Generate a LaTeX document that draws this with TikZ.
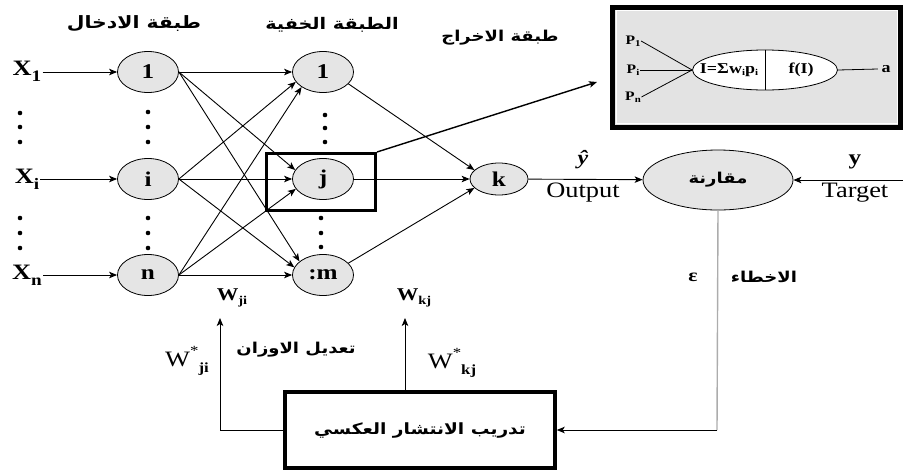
\documentclass[tikz,border=0pt]{standalone}
\usepackage{fontspec}
\setmainfont{Liberation Serif}[FakeStretch=1.2]
\newfontfamily\arabicfont[Script=Arabic,FakeStretch=1.2]{DejaVu Sans}
\TeXXeTstate=1
\usetikzlibrary{shapes.geometric,arrows.meta}

\newcommand\setfs[1]{\fontsize{#1}{#1}\selectfont}
\newcommand\arfont[1]{\arabicfont\bfseries\setfs{#1}}
\newcommand\lowsub[2][0.45ex]{\raisebox{-#1}{#2}}

\begin{document}
\begin{tikzpicture}[x=1pt,y=-1pt,
  neuron/.style={ellipse,draw,line width=0.8pt,fill=gray!20,
    minimum width=61pt,minimum height=41pt,inner sep=0pt,font=\bfseries\setfs{21}},
  link/.style={-{Stealth[length=8pt,width=6.5pt,inset=2pt]},line width=0.9pt},
  thin/.style={line width=0.8pt},
  dotmark/.style={circle,fill=black,inner sep=0pt,minimum size=4.6pt},
  lbl/.style={inner sep=1pt,font=\setfs{22}},
  xlbl/.style={inner sep=1pt,font=\bfseries\setfs{22}},
  wlbl/.style={inner sep=1pt,font=\bfseries\setfs{18}},
  plbl/.style={inner sep=0.5pt,font=\bfseries\setfs{13}},
  thickbox/.style={draw,line width=3pt,inner sep=0pt}]

\useasboundingbox (0,0) rectangle (903,472);

% layer titles
\node (tin)  at (134,24) {\arfont{17}\beginR طبقة الادخال\endR};
\node (thid) at (332,25) {\arfont{16}\beginR الطبقة الخفية\endR};
\node (tout) at (500,38) {\arfont{15}\beginR طبقة الاخراج\endR};

% input layer
\node[neuron] (in1) at (148,72)  {1};
\node[neuron] (ini) at (148,179) {i};
\node[neuron] (inn) at (148,275) {n};

% hidden layer
\node[neuron] (h1) at (323,72)  {1};
\node[neuron] (hj) at (323,179) {j};
\node[neuron] (hm) at (323,275) {:m};

% output neuron and comparison
\node[neuron,minimum width=58pt,minimum height=32pt] (k) at (499,179) {k};
\node[neuron,minimum width=150pt,minimum height=60pt] (cmp) at (718,180)
  {\arfont{15}\beginR مقارنة\endR};

% input signals
\node[xlbl] (x1) at (27,71)  {X\lowsub[0.6ex]{\setfs{16}1}};
\node[xlbl] (xi) at (27,179) {X\lowsub[0.6ex]{\setfs{16}i}};
\node[xlbl] (xn) at (27,275) {X\lowsub[0.6ex]{\setfs{16}n}};
\draw[link] (x1.east |- in1) -- (in1);
\draw[link] (xi.east |- ini) -- (ini);
\draw[link] (xn.east |- inn) -- (inn);

% ellipsis dots
\foreach \x/\y in {20/113,20/127,20/142,20/218,20/233,20/248,
                   148/112,148/127,148/142,148/218,148/233,148/248,
                   325/115,325/128,325/142,321/218,321/233,321/247}
  \node[dotmark] at (\x,\y) {};

% input -> hidden
\draw[link] (in1.east) -- (h1.west);
\draw[link] (in1.east) -- (hj.162);
\draw[link] (in1.east) -- (hm.150);
\draw[link] (ini.east) -- (h1.200);
\draw[link] (ini.east) -- (hj.west);
\draw[link] (ini.east) -- (hm.165);
\draw[link] (inn.east) -- (h1.215);
\draw[link] (inn.east) -- (hj.200);
\draw[link] (inn.east) -- (hm.west);

% hidden -> output
\draw[link] (h1.-25) -- (k.160);
\draw[link] (hj.east) -- (k.west);
\draw[link] (hm.25) -- (k.200);

% frame around neuron j
\node[thickbox,minimum width=109pt,minimum height=57pt] (jbox) at (321,182) {};

% single neuron detail
\node[draw,line width=5pt,fill=gray!22,minimum width=288pt,minimum height=120pt,
  inner sep=0pt] (inset) at (756.5,67) {};
\draw[white,line width=0.8pt] ([shift={(6,6)}]inset.north west) rectangle ([shift={(-6,-6)}]inset.south east);
\node[ellipse,draw,thin,fill=white,minimum width=145pt,minimum height=40pt,
  inner sep=0pt] (neu) at (765,70) {};
\draw[thin] (neu.north) -- (neu.south);
\node[font=\bfseries\setfs{15}] (sumtxt) at (729,70) {I=Σw\lowsub[0.3ex]{\setfs{9}i}p\lowsub[0.3ex]{\setfs{9}i}};
\node[font=\bfseries\setfs{15}] (ftxt) at (801,70) {f(I)};
\node[plbl] (p1) at (633,41) {P\lowsub[0.3ex]{\setfs{9}1}};
\node[plbl] (p2) at (633,70) {P\lowsub[0.3ex]{\setfs{9}i}};
\node[plbl] (pn) at (633,97) {P\lowsub[0.3ex]{\setfs{9}n}};
\draw[thin] (p1.east) -- (neu.west);
\draw[thin] (p2.east) -- (neu.west);
\draw[thin] (pn.east) -- (neu.west);
\node[font=\bfseries\setfs{15}] (outa) at (886,69) {a};
\draw[thin] (neu.east) -- (outa.west);

\coordinate (insetin) at (597,82);
\draw[link,line width=1.4pt] (jbox.north east) -- (insetin);

% output and target
\draw[link] (k) -- (cmp);
\node[lbl,font=\bfseries\itshape\setfs{20}] (yhat) at (583,160) {ŷ};
\node[lbl] (outlbl) at (583,193) {Output};
\coordinate (tgt) at (903,180);
\draw[link] (tgt) -- (cmp.east);
\node[lbl,font=\bfseries\setfs{21}] (ylbl) at (855,162) {y};
\node[lbl] (tgtlbl) at (855,193) {Target};

% error feedback
\node[draw,line width=3.5pt,minimum width=270pt,minimum height=76pt,inner sep=0pt] (train)
  at (420,430) {\arfont{15.5}\beginR تدريب الانتشار العكسي\endR};
\coordinate (ec) at (717,430);
\draw[gray!65,line width=1.4pt] (cmp.south) -- (ec);
\draw[link] (ec) -- (train.east);
\node[lbl,font=\bfseries\setfs{18}] (eps) at (693,277) {ε};
\node (errlbl) at (764,277) {\arfont{15}\beginR الاخطاء\endR};

% weight updates
\coordinate (wjitip) at (220,318);
\coordinate (wkjtip) at (405,318);
\draw[link] (train.west) -| (wjitip);
\draw[link] (train.north -| wkjtip) -- (wkjtip);
\node[wlbl] (wji) at (232,298) {W\lowsub{\setfs{12}ji}};
\node[wlbl] (wkj) at (414,298) {W\lowsub{\setfs{12}kj}};
\node[wlbl,font=\setfs{22}] (wsji) at (187,361) {W\raisebox{1.1ex}{\setfs{14}*}\lowsub[0.6ex]{\bfseries\setfs{14}ji}};
\node[wlbl,font=\setfs{22}] (wskj) at (452,363) {W\raisebox{1.1ex}{\setfs{14}*}\lowsub[0.6ex]{\bfseries\setfs{14}kj}};
\node (adj) at (296,350) {\arfont{15}\beginR تعديل الاوزان\endR};

\end{tikzpicture}
\end{document}
